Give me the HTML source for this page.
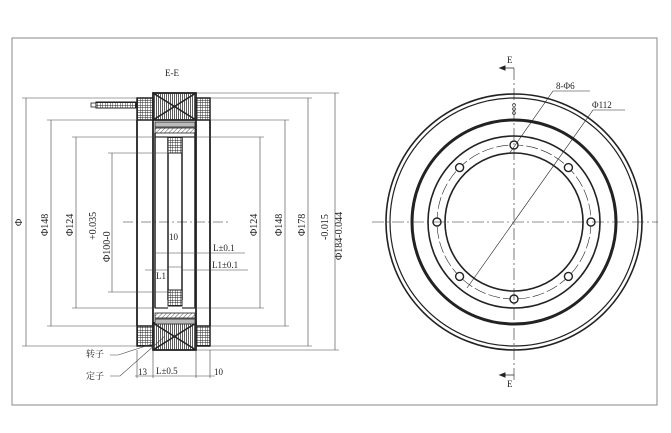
<!DOCTYPE html><html><head><style>body{margin:0;background:#fff}svg{display:block}text{font-family:"Liberation Serif","Noto Serif CJK SC",serif;fill:#222}</style></head><body>
<svg width="671" height="433" viewBox="0 0 671 433" xmlns="http://www.w3.org/2000/svg">
<defs>
<pattern id="grid" width="2.5" height="2.5" patternUnits="userSpaceOnUse"><rect width="2.5" height="2.5" fill="#fff"/><path d="M0 0H2.5M0 0V2.5" stroke="#222" stroke-width="0.9"/></pattern>
<pattern id="vl" width="2" height="2" patternUnits="userSpaceOnUse"><path d="M0.5 0V2" stroke="#333" stroke-width="0.8"/></pattern>
<pattern id="diag" width="3" height="3" patternUnits="userSpaceOnUse" patternTransform="rotate(45)"><path d="M0 0V3" stroke="#555" stroke-width="1"/></pattern>
</defs>
<rect x="12" y="38" width="645" height="367" fill="none" stroke="#888" stroke-width="1"/>
<g stroke="#222" fill="none">
<!-- left view -->
<text x="165" y="76" font-size="9" stroke="none">E-E</text>
<!-- cable -->
<rect x="96" y="102" width="40" height="6" fill="url(#grid)" stroke-width="1"/>
<rect x="91" y="103" width="5" height="4" stroke-width="0.8"/>
<!-- hatched blocks -->
<rect x="137" y="98" width="16" height="22" fill="url(#grid)" stroke-width="1.5"/>
<rect x="196" y="98" width="14" height="22" fill="url(#grid)" stroke-width="1.5"/>
<rect x="137" y="326" width="16" height="20" fill="url(#grid)" stroke-width="1.5"/>
<rect x="196" y="326" width="14" height="20" fill="url(#grid)" stroke-width="1.5"/>
<!-- coils -->
<rect x="153" y="93" width="43" height="27" fill="url(#vl)" stroke-width="1.8"/>
<path d="M153 93L196 120M196 93L153 120" stroke-width="1.5"/>
<rect x="153" y="323" width="43" height="27" fill="url(#vl)" stroke-width="1.8"/>
<path d="M153 323L196 350M196 323L153 350" stroke-width="1.5"/>
<!-- columns -->
<path d="M137 120V326M153 120V326M196 120V326M210 120V326" stroke-width="1.8"/>
<rect x="155" y="122" width="40" height="5" fill="#bbb" stroke-width="0.8"/>
<rect x="155" y="128" width="40" height="5" fill="url(#diag)" stroke-width="0.8"/>
<rect x="155" y="313" width="40" height="5" fill="url(#diag)" stroke-width="0.8"/>
<rect x="155" y="319" width="40" height="5" fill="#bbb" stroke-width="0.8"/>
<!-- rotor T -->
<path d="M155 133V308M195 133V308" stroke-width="1.5"/>
<path d="M168 137V300M182 137V300" stroke-width="1.5"/>
<rect x="168" y="137" width="14" height="16" fill="url(#grid)" stroke-width="1"/>
<rect x="168" y="290" width="14" height="16" fill="url(#grid)" stroke-width="1"/>
<path d="M155 137H168M182 137H195M155 308H168M182 308H195" stroke-width="1.2"/>
<!-- center dash -->
<path d="M123 222H228" stroke-width="0.6" stroke-dasharray="10 3 2 3"/>
<!-- dimension lines -->
<g stroke-width="0.6" stroke="#444">
<path d="M26 98V346M22 98H137M22 346H137"/>
<path d="M51 120V326M47 120H137M47 326H137"/>
<path d="M76 137V308M72 137H168M72 308H168"/>
<path d="M112 153V292M108 153H170M108 292H170"/>
<path d="M260 137V308M182 137H264M182 308H264"/>
<path d="M285 120V326M210 120H289M210 326H289"/>
<path d="M308 98V346M210 98H312M210 346H312"/>
<path d="M335 93V350M196 93H339M196 350H339"/>
<path d="M155 253H195M168 267H182M145 270H168M182 253H245M182 270H248"/>
<path d="M137 350V378M153 350V378M196 350V378M210 350V378M135 376H215"/>
<path d="M152 344L118 355H110M165 336L120 376H110"/>
</g>
<g font-size="10" stroke="none">
<text transform="translate(22,226) rotate(-90)">Φ</text>
<text transform="translate(48,236) rotate(-90)">Φ148</text>
<text transform="translate(73,236) rotate(-90)">Φ124</text>
<text transform="translate(96,240) rotate(-90)">+0.035</text>
<text transform="translate(110,262) rotate(-90)">Φ100-0</text>
<text transform="translate(257,236) rotate(-90)">Φ124</text>
<text transform="translate(282,236) rotate(-90)">Φ148</text>
<text transform="translate(305,236) rotate(-90)">Φ178</text>
<text transform="translate(328,240) rotate(-90)">-0.015</text>
<text transform="translate(342,260) rotate(-90)">Φ184-0.044</text>
<text x="169" y="240" font-size="9">10</text>
<text x="213" y="251" font-size="9">L±0.1</text>
<text x="212" y="268" font-size="9">L1±0.1</text>
<text x="156" y="279" font-size="9">L1</text>
<text x="86" y="357" font-size="9">转子</text>
<text x="86" y="379" font-size="9">定子</text>
<text x="138" y="375" font-size="9">13</text>
<text x="156" y="374" font-size="9">L±0.5</text>
<text x="214" y="375" font-size="9">10</text>
</g>
<!-- right view -->
<circle cx="514" cy="222" r="128" stroke-width="1.6"/>
<circle cx="514" cy="222" r="124" stroke-width="1.2"/>
<circle cx="514" cy="222" r="102" stroke-width="3"/>
<circle cx="514" cy="222" r="86" stroke-width="1.6"/>
<circle cx="514" cy="222" r="77" stroke-width="0.6" stroke-dasharray="12 3"/>
<circle cx="514" cy="222" r="69" stroke-width="1.6"/>
<g stroke-width="1.4" fill="#fff">
<circle cx="514" cy="145" r="4"/><circle cx="568.4" cy="167.6" r="4"/><circle cx="591" cy="222" r="4"/><circle cx="568.4" cy="276.4" r="4"/>
<circle cx="514" cy="299" r="4"/><circle cx="459.6" cy="276.4" r="4"/><circle cx="437" cy="222" r="4"/><circle cx="459.6" cy="167.6" r="4"/>
</g>
<path d="M372 222H658M514 68V380" stroke-width="0.6" stroke-dasharray="12 3 2 3"/>
<path d="M514 68H500M514 375H500" stroke-width="0.8"/>
<path d="M500 68l5 -2v4z M500 375l5 -2v4z" fill="#222"/>
<g stroke-width="0.6">
<path d="M509 154L553 91H590M467 288L593 110H625"/>
<circle cx="514" cy="105" r="1.5"/><circle cx="514" cy="109" r="1.5"/><circle cx="514" cy="113" r="1.5"/>
</g>
<g font-size="9" stroke="none">
<text x="507" y="63">E</text>
<text x="507" y="387">E</text>
<text x="556" y="89">8-Φ6</text>
<text x="592" y="108">Φ112</text>
</g>
</g>
</svg>
</body></html>
